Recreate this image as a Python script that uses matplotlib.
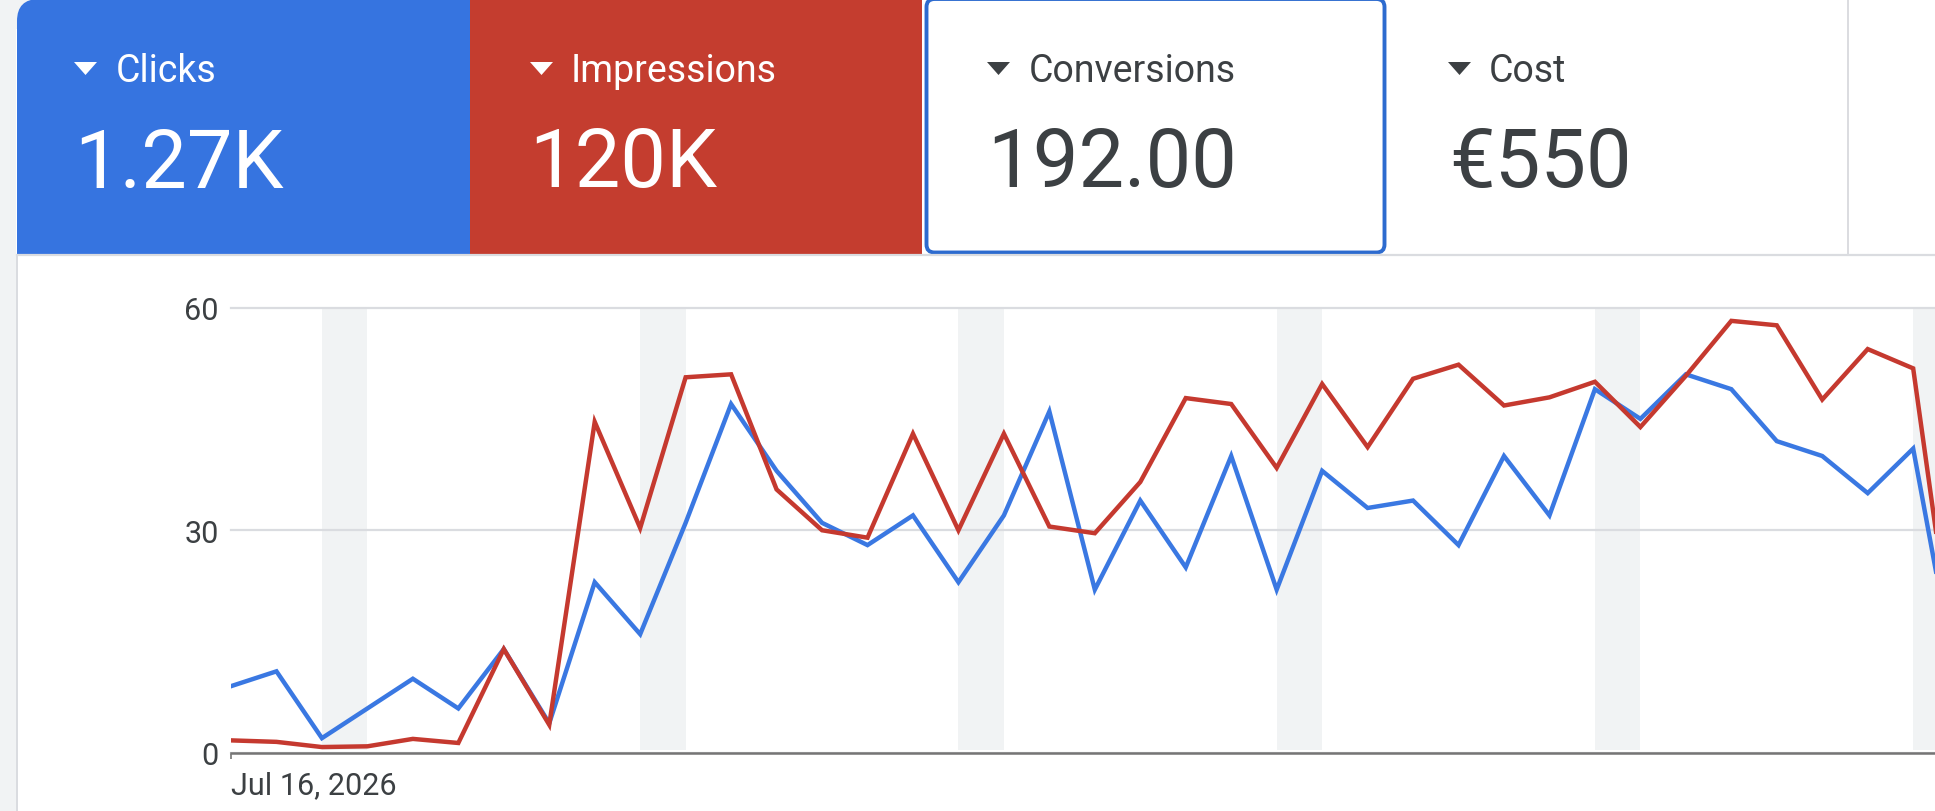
import matplotlib
matplotlib.use("Agg")
import matplotlib.pyplot as plt
from matplotlib.patches import FancyBboxPatch, Polygon, Rectangle

plt.rcParams['font.family'] = ['Roboto', 'DejaVu Sans']

# ----------------------------
# Data
# ----------------------------
clicks = [9, 11, 2, 6, 10, 6, 14, 4, 23, 16, 31, 47, 38, 31, 28, 32, 23, 32, 46, 22,
          34, 25, 40, 22, 38, 33, 34, 28, 40, 32, 49, 45, 51, 49, 42, 40, 35, 41, 8]
impressions = [1.7, 1.5, 0.8, 0.9, 1.9, 1.35, 14.0, 3.8, 44.6, 30.3, 50.6, 51.0, 35.5, 30.0,
               29.0, 43.0, 30.0, 43.0, 30.5, 29.6, 36.5, 47.8, 47.0, 38.4, 49.7, 41.2, 50.4,
               52.3, 46.8, 47.9, 50.0, 43.9, 50.8, 58.2, 57.6, 47.6, 54.4, 51.8, 8]
weekend_starts = [2, 9, 16, 23, 30, 37]
y_ticks = [0, 30, 60]
x_tick_labels = ["Jul 16, 2026"]

metric_names = ["Clicks", "Impressions", "Conversions", "Cost"]
metric_values = ["1.27K", "120K", "192.00", "\u20ac550"]

BLUE = "#3674e0"
RED = "#c43d2f"
LINE_BLUE = "#3a78e2"
LINE_RED = "#c5392f"
DARK = "#3c4043"
GRID = "#dadce0"
BAND = "#f1f3f4"
BORDER = "#2d6bcf"

W, H = 1935, 812
fig = plt.figure(figsize=(W / 100, H / 100), dpi=100, facecolor="white")

# ----------------------------
# Scorecards, drawn in pixel coordinates
# ----------------------------
bg = fig.add_axes([0, 0, 1, 1], zorder=0)
bg.set_xlim(0, W)
bg.set_ylim(H, 0)
bg.axis("off")

bg.add_patch(Rectangle((0, 0), 16, H, color=BAND, lw=0))
bg.add_patch(Rectangle((0, 0), 45, 30, color=BAND, lw=0))

bg.add_patch(FancyBboxPatch((17, 0), 500, 300, boxstyle="round,pad=0,rounding_size=22",
                            facecolor=BLUE, edgecolor="none"))
bg.add_patch(Rectangle((470, 0), 452, 255, color=RED, lw=0))
bg.add_patch(Rectangle((16, 255), W, H, color="white", lw=0))
bg.add_patch(Rectangle((16, 255), 1.5, H, color=GRID, lw=0))
bg.plot([17, W], [256, 256], color=GRID, lw=1.6)
bg.plot([1848, 1848], [0, 256], color=GRID, lw=1.4)
bg.add_patch(FancyBboxPatch((926.5, 0), 458, 253.5, boxstyle="round,pad=0,rounding_size=8",
                            facecolor="white", edgecolor=BORDER, lw=2.8))

arrow_x = [74, 530, 987, 1448]
name_x = [116, 571, 1029, 1489]
value_x = [74, 529, 987, 1449]
colors = ["white", "white", DARK, DARK]
for i, name in enumerate(metric_names):
    ax0 = arrow_x[i]
    bg.add_patch(Polygon([(ax0, 63), (ax0 + 23, 63), (ax0 + 11.5, 76)], closed=True,
                         facecolor=colors[i], edgecolor="none"))
    bg.text(name_x[i], 82, name, color=colors[i], fontsize=27, va="baseline", ha="left")
    bg.text(value_x[i], 187.5, metric_values[i], color=colors[i], fontsize=58.5,
            va="baseline", ha="left")

# ----------------------------
# Line chart
# ----------------------------
ax = fig.add_axes([231 / W, (H - 754) / H, (W - 231) / W, (754 - 308.5) / H], zorder=1)
ax.patch.set_alpha(0)
x = list(range(len(clicks)))

for s in weekend_starts:
    ax.fill_between([s, s + 1], 0.45, 60, color=BAND, lw=0, zorder=1)

ax.set_yticks(y_ticks)
ax.yaxis.grid(True, color=GRID, lw=1.6, zorder=2, clip_on=False)
ax.set_axisbelow(False)
for gl in ax.get_ygridlines():
    gl.set_zorder(2)

ax.plot(x, clicks, color=LINE_BLUE, lw=3.2, zorder=3, solid_joinstyle="miter")
ax.plot(x, impressions, color=LINE_RED, lw=3.2, zorder=4, solid_joinstyle="miter")

ax.set_xlim(0, 37.48)
ax.set_ylim(0, 60)
ax.set_xticks([0])
ax.set_xticklabels(x_tick_labels, ha="left", fontsize=22, color=DARK)
ax.tick_params(axis="x", length=4.5, width=1.2, color="#757575", pad=8)
ax.tick_params(axis="y", length=0, pad=9, labelsize=22, labelcolor=DARK)

for side in ["top", "left", "right"]:
    ax.spines[side].set_visible(False)
ax.spines["bottom"].set_color("#757575")
ax.spines["bottom"].set_linewidth(1.8)
ax.spines["bottom"].set_zorder(5)

plt.savefig("out.png", dpi=100)
